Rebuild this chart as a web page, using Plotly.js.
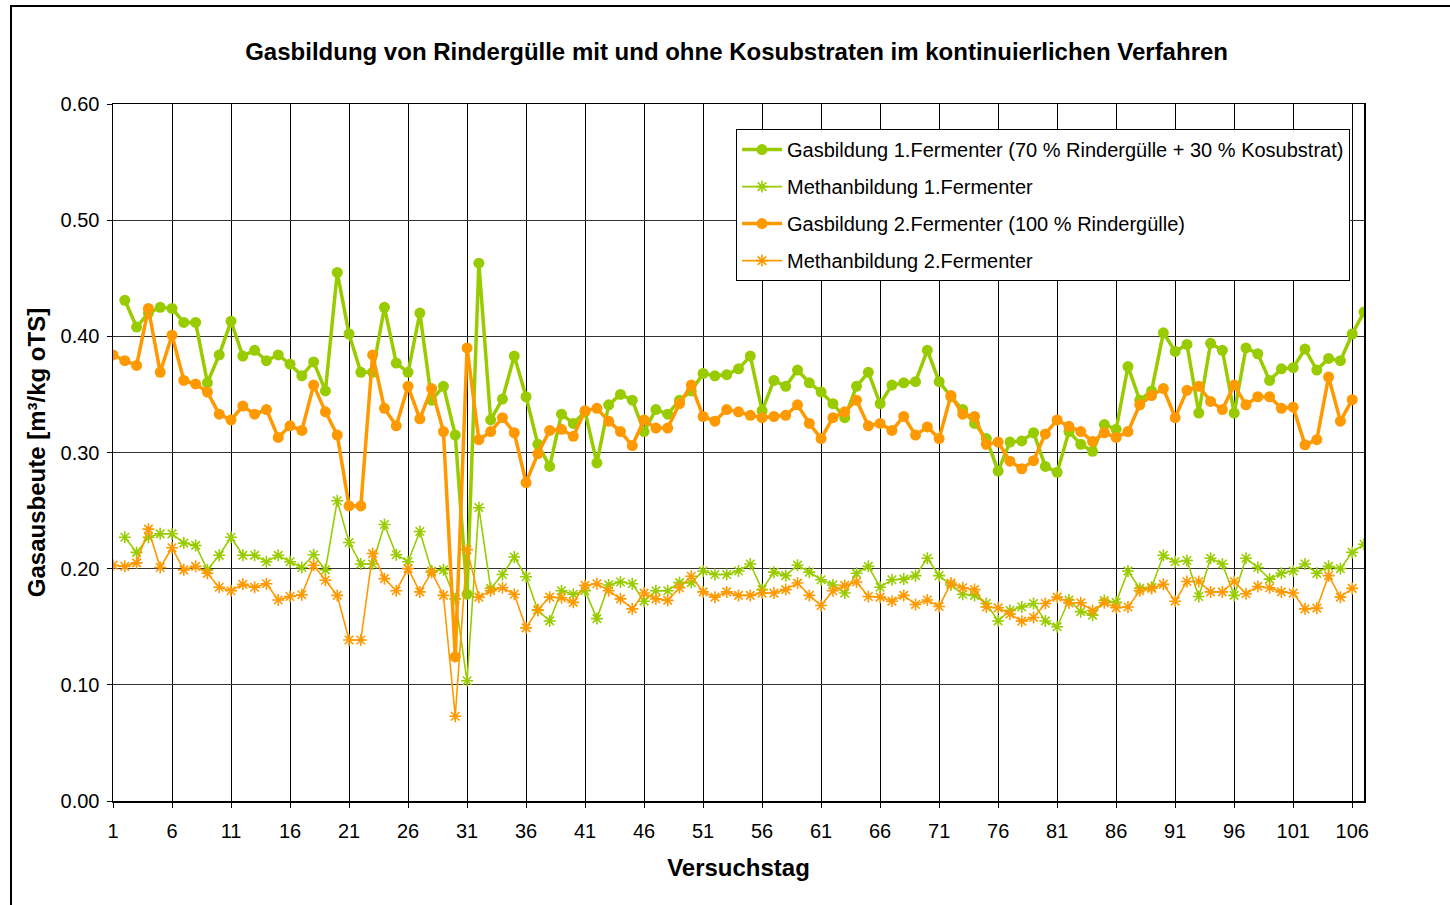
<!DOCTYPE html>
<html>
<head>
<meta charset="utf-8">
<script src="https://cdn.plot.ly/plotly-3.0.1.min.js"></script>
<style>
  html, body { margin: 0; padding: 0; background: #ffffff; }
  #wrap { position: relative; width: 1450px; height: 905px; overflow: hidden; }
  #chart { position: absolute; left: 0; top: 0; width: 1450px; height: 905px; }
  #frame { position: absolute; left: 10px; top: 5px; width: 1460px; height: 920px; border: 2px solid #000; pointer-events: none; }
</style>
</head>
<body>
<div id="wrap">
  <div id="chart"></div>
  <div id="frame"></div>
</div>
<script>
// Versuchstag 1..107
const days = Array.from({length: 107}, (_, i) => i + 1);

// Gasbildung 1.Fermenter (70 % Rindergülle + 30 % Kosubstrat), days 1..107 (no value on day 1)
const gas1 = [null,
  0.431, 0.408, 0.420, 0.425, 0.424, 0.412, 0.412, 0.360, 0.384,
  0.413, 0.383, 0.388, 0.379, 0.384, 0.376, 0.366, 0.378, 0.353, 0.455,
  0.402, 0.369, 0.369, 0.425, 0.377, 0.369, 0.420, 0.345, 0.357, 0.315,
  0.178, 0.463, 0.328, 0.346, 0.383, 0.348, 0.307, 0.288, 0.333, 0.325,
  0.335, 0.291, 0.341, 0.350, 0.345, 0.318, 0.337, 0.333, 0.345, 0.353,
  0.368, 0.366, 0.367, 0.372, 0.383, 0.336, 0.362, 0.357, 0.371, 0.360,
  0.352, 0.342, 0.330, 0.357, 0.369, 0.342, 0.358, 0.360, 0.361, 0.388,
  0.361, 0.348, 0.337, 0.325, 0.312, 0.284, 0.309, 0.310, 0.317, 0.288,
  0.283, 0.318, 0.307, 0.301, 0.324, 0.320, 0.374, 0.345, 0.353, 0.403,
  0.387, 0.393, 0.334, 0.394, 0.388, 0.334, 0.390, 0.385, 0.362, 0.372,
  0.373, 0.389, 0.371, 0.381, 0.379, 0.402, 0.421];

// Methanbildung 1.Fermenter
const meth1 = [null,
  0.227, 0.214, 0.227, 0.230, 0.230, 0.222, 0.220, 0.199, 0.2115,
  0.227, 0.2115, 0.2115, 0.206, 0.2115, 0.206, 0.201, 0.212, 0.199, 0.2585,
  0.2225, 0.204, 0.204, 0.238, 0.212, 0.206, 0.232, 0.198, 0.199, 0.174,
  0.1035, 0.2525, 0.183, 0.195, 0.210, 0.193, 0.164, 0.155, 0.181, 0.178,
  0.181, 0.157, 0.186, 0.1885, 0.187, 0.172, 0.181, 0.181, 0.188, 0.188,
  0.198, 0.195, 0.195, 0.198, 0.204, 0.182, 0.197, 0.194, 0.203, 0.197,
  0.1905, 0.186, 0.179, 0.196, 0.202, 0.184, 0.1905, 0.191, 0.194, 0.209,
  0.194, 0.186, 0.178, 0.177, 0.170, 0.155, 0.164, 0.167, 0.170, 0.155,
  0.150, 0.173, 0.163, 0.160, 0.1726, 0.171, 0.198, 0.183, 0.184, 0.2115,
  0.206, 0.207, 0.176, 0.209, 0.204, 0.177, 0.209, 0.201, 0.191, 0.196,
  0.198, 0.204, 0.196, 0.202, 0.200, 0.214, 0.221];

// Gasbildung 2.Fermenter (100 % Rindergülle), days 1..106
const gas2 = [
  0.384, 0.379, 0.375, 0.424, 0.369, 0.401, 0.362, 0.359, 0.352, 0.333,
  0.328, 0.340, 0.333, 0.337, 0.313, 0.323, 0.319, 0.358, 0.335, 0.315,
  0.254, 0.254, 0.384, 0.338, 0.323, 0.357, 0.329, 0.355, 0.318, 0.124,
  0.390, 0.311, 0.318, 0.330, 0.317, 0.274, 0.299, 0.319, 0.320, 0.314,
  0.336, 0.338, 0.327, 0.318, 0.306, 0.328, 0.321, 0.321, 0.342, 0.358,
  0.331, 0.327, 0.337, 0.335, 0.332, 0.330, 0.331, 0.332, 0.341, 0.325,
  0.312, 0.330, 0.335, 0.345, 0.323, 0.325, 0.319, 0.331, 0.315, 0.322,
  0.312, 0.349, 0.333, 0.331, 0.307, 0.309, 0.2925, 0.286, 0.293, 0.316,
  0.328, 0.3225, 0.318, 0.3095, 0.317, 0.313, 0.318, 0.341, 0.349, 0.355,
  0.330, 0.3535, 0.357, 0.344, 0.337, 0.358, 0.341, 0.348, 0.348, 0.338,
  0.339, 0.3066, 0.311, 0.365, 0.327, 0.3455, null];

// Methanbildung 2.Fermenter
const meth2 = [
  0.203, 0.202, 0.205, 0.234, 0.201, 0.218, 0.199, 0.202, 0.196, 0.184,
  0.181, 0.1865, 0.184, 0.187, 0.173, 0.176, 0.1775, 0.203, 0.190, 0.177,
  0.1386, 0.1386, 0.213, 0.1914, 0.181, 0.200, 0.180, 0.197, 0.177, 0.073,
  0.2164, 0.1755, 0.181, 0.1836, 0.178, 0.149, 0.1646, 0.1755, 0.175, 0.171,
  0.1856, 0.187, 0.181, 0.174, 0.1654, 0.179, 0.174, 0.1727, 0.1836, 0.1935,
  0.180, 0.1755, 0.180, 0.177, 0.177, 0.179, 0.179, 0.182, 0.1876, 0.177,
  0.1683, 0.181, 0.1856, 0.1885, 0.176, 0.1755, 0.172, 0.177, 0.1692, 0.173,
  0.1674, 0.1876, 0.1836, 0.182, 0.167, 0.1663, 0.161, 0.1548, 0.158, 0.170,
  0.1755, 0.1706, 0.1706, 0.164, 0.1706, 0.1663, 0.167, 0.181, 0.183, 0.1865,
  0.172, 0.189, 0.189, 0.180, 0.180, 0.189, 0.1784, 0.1847, 0.1836, 0.180,
  0.179, 0.1654, 0.166, 0.194, 0.1755, 0.183, null];

const seriesNames = [
  'Gasbildung 1.Fermenter (70 % Rindergülle + 30 % Kosubstrat)',
  'Methanbildung 1.Fermenter',
  'Gasbildung 2.Fermenter (100 % Rindergülle)',
  'Methanbildung 2.Fermenter'
];
const xTickVals = [1, 6, 11, 16, 21, 26, 31, 36, 41, 46, 51, 56, 61, 66, 71, 76, 81, 86, 91, 96, 101, 106];
const yTickVals = [0, 0.1, 0.2, 0.3, 0.4, 0.5, 0.6];

const GREEN = '#99CC00';
const ORANGE = '#FF9900';
const FONT = 'Liberation Sans, Arial, sans-serif';

const traces = [
  { x: days, y: gas1, name: seriesNames[0], legendgroup: 'a', type: 'scatter', mode: 'lines+markers',
    line: { color: GREEN, width: 3.5 }, marker: { symbol: 'circle', size: 11, color: GREEN } },
  { x: days, y: meth1, name: seriesNames[1], legendgroup: 'b', type: 'scatter', mode: 'lines+markers',
    line: { color: GREEN, width: 1.6 }, marker: { symbol: 'asterisk-open', size: 10, color: GREEN, line: { color: GREEN, width: 1.6 } } },
  { x: days, y: gas2, name: seriesNames[2], legendgroup: 'c', type: 'scatter', mode: 'lines+markers',
    line: { color: ORANGE, width: 3.5 }, marker: { symbol: 'circle', size: 11, color: ORANGE } },
  { x: days, y: meth2, name: seriesNames[3], legendgroup: 'd', type: 'scatter', mode: 'lines+markers',
    line: { color: ORANGE, width: 1.6 }, marker: { symbol: 'asterisk-open', size: 10, color: ORANGE, line: { color: ORANGE, width: 1.6 } } }
];

const layout = {
  width: 1450, height: 905,
  paper_bgcolor: 'rgba(0,0,0,0)', plot_bgcolor: '#ffffff',
  margin: { l: 113, r: 86, t: 104, b: 104 },
  font: { family: FONT, color: '#000000' },
  title: { text: 'Gasbildung von Rindergülle mit und ohne Kosubstraten im kontinuierlichen Verfahren',
           font: { family: FONT, size: 24, color: '#000', weight: 'bold' }, x: 0.508, xanchor: 'center', y: 0.943, yanchor: 'middle' },
  xaxis: {
    range: [1, 107], tickmode: 'array', tickvals: xTickVals, ticktext: xTickVals.map(String),
    showgrid: true, gridcolor: '#000000', gridwidth: 1,
    showline: true, linecolor: '#000000', linewidth: 1.5, mirror: true,
    ticks: 'outside', ticklen: 5, tickcolor: '#000', zeroline: false,
    ticklabelstandoff: 6,
    tickfont: { family: FONT, size: 20, color: '#000' },
    title: { text: 'Versuchstag', font: { family: FONT, size: 24, color: '#000', weight: 'bold' }, standoff: 18 }
  },
  yaxis: {
    range: [0, 0.6], tickmode: 'array', tickvals: yTickVals, ticktext: yTickVals.map(v => v.toFixed(2)),
    showgrid: true, gridcolor: '#333333', gridwidth: 1,
    showline: true, linecolor: '#000000', linewidth: 1.5, mirror: true,
    ticks: 'outside', ticklen: 5, tickcolor: '#000', zeroline: false,
    ticklabelstandoff: 3,
    tickfont: { family: FONT, size: 20, color: '#000' },
    title: { text: 'Gasausbeute [m³/kg oTS]', font: { family: FONT, size: 24, color: '#000', weight: 'bold' }, standoff: 8 }
  },
  showlegend: true,
  legend: {
    x: 0.498, y: 0.964, xanchor: 'left', yanchor: 'top',
    bgcolor: '#ffffff', bordercolor: '#000000', borderwidth: 1,
    font: { family: FONT, size: 20, color: '#000' },
    traceorder: 'grouped', tracegroupgap: 8, itemwidth: 40
  },
  hovermode: false
};

Plotly.newPlot('chart', traces, layout, { displayModeBar: false, staticPlot: true });
</script>
</body>
</html>
